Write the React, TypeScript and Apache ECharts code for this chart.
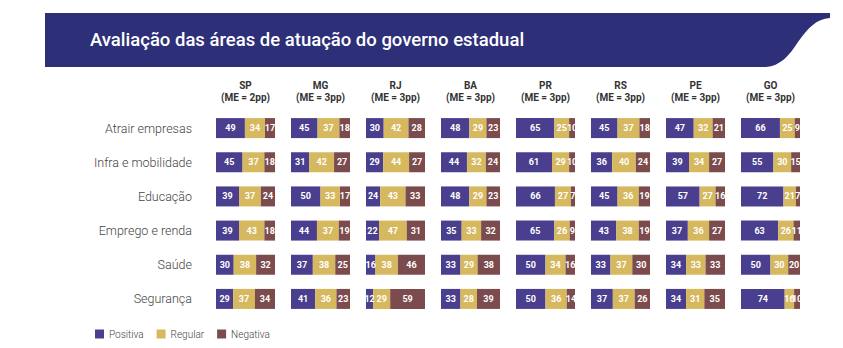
import React, { useEffect, useRef } from "react";
import * as echarts from "echarts";

const states = ["SP", "MG", "RJ", "BA", "PR", "RS", "PE", "GO"];
const margins = ["(ME = 2pp)", "(ME = 3pp)", "(ME = 3pp)", "(ME = 3pp)", "(ME = 3pp)", "(ME = 3pp)", "(ME = 3pp)", "(ME = 3pp)"];
const areas = ["Atrair empresas", "Infra e mobilidade", "Educação", "Emprego e renda", "Saúde", "Segurança"];

const positiva = [
  [49, 45, 39, 39, 30, 29],
  [45, 31, 50, 44, 37, 41],
  [30, 29, 24, 22, 16, 12],
  [48, 44, 48, 35, 33, 33],
  [65, 61, 66, 65, 50, 50],
  [45, 36, 45, 43, 33, 37],
  [47, 39, 57, 37, 34, 34],
  [66, 55, 72, 63, 50, 74],
];
const regular = [
  [34, 37, 37, 43, 38, 37],
  [37, 42, 33, 37, 38, 36],
  [42, 44, 43, 47, 38, 29],
  [29, 32, 29, 33, 29, 28],
  [25, 29, 27, 26, 34, 36],
  [37, 40, 36, 38, 37, 37],
  [32, 34, 27, 36, 33, 31],
  [25, 30, 21, 26, 30, 16],
];
const negativa = [
  [17, 18, 24, 18, 32, 34],
  [18, 27, 17, 19, 25, 23],
  [28, 27, 33, 31, 46, 59],
  [23, 24, 23, 32, 38, 39],
  [10, 10, 7, 9, 16, 14],
  [18, 24, 19, 19, 30, 26],
  [21, 27, 16, 27, 33, 35],
  [9, 15, 7, 11, 20, 10],
];

const seriesNames = ["Positiva", "Regular", "Negativa"];
const colors = ["#4A3F8E", "#D6B85F", "#7B4B4D"];

const PANEL_LEFT = 216;
const PANEL_STEP = 75;
const PANEL_W = 59;
const GRID_TOP = 111;
const GRID_H = 205;

export default function App() {
  const ref = useRef<HTMLDivElement>(null);
  useEffect(() => {
    if (!ref.current) return;
    const chart = echarts.init(ref.current, null, { renderer: "svg" });
    const grids: any[] = [];
    const xAxes: any[] = [];
    const yAxes: any[] = [];
    const series: any[] = [];
    const graphics: any[] = [];
    const valueSets = [positiva, regular, negativa];

    echarts.graphic.registerShape(
      "banner",
      echarts.graphic.extendPath(
        "M45 13 L830 13 L830 18 C816 19 808 28 798 42 C789 56 780 66 766 67 L45 67 Z",
        {}
      ) as any
    );
    graphics.push({
      type: "banner",
      x: 0,
      y: 0,
      style: { fill: "#2D2F78" },
      silent: true,
    });
    graphics.push({
      type: "text",
      x: 90,
      y: 40,
      style: {
        text: "Avaliação das áreas de atuação do governo estadual",
        fill: "#ffffff",
        font: "500 18.5px Roboto",
        verticalAlign: "middle",
      },
    });

    states.forEach((st, i) => {
      const left = PANEL_LEFT + PANEL_STEP * i;
      grids.push({ left, top: GRID_TOP, width: PANEL_W, height: GRID_H });
      xAxes.push({
        type: "value",
        gridIndex: i,
        min: 0,
        max: 100,
        show: false,
      });
      yAxes.push({
        type: "category",
        gridIndex: i,
        data: areas,
        inverse: true,
        axisLine: { show: false },
        axisTick: { show: false },
        splitLine: { show: false },
        axisLabel: {
          show: i === 0,
          margin: 24,
          color: "#444",
          fontSize: 12.5,
          fontFamily: "Roboto",
          fontWeight: 300,
        },
      });
      valueSets.forEach((vals, k) => {
        series.push({
          type: "bar",
          name: seriesNames[k],
          stack: "s" + i,
          xAxisIndex: i,
          yAxisIndex: i,
          barWidth: 20,
          data: vals[i],
          itemStyle: { color: colors[k] },
          label: {
            show: true,
            position: "inside",
            color: "#fff",
            fontSize: 9,
            fontWeight: "bold",
            fontFamily: "Roboto",
          },
        });
      });
      graphics.push({
        type: "text",
        x: left + PANEL_W / 2,
        y: 85,
        style: {
          text: st,
          fill: "#333",
          font: "bold 10px Roboto",
          align: "center",
          verticalAlign: "middle",
        },
      });
      graphics.push({
        type: "text",
        x: left + PANEL_W / 2,
        y: 97,
        style: {
          text: margins[i],
          fill: "#333",
          font: "bold 10px Roboto",
          align: "center",
          verticalAlign: "middle",
        },
      });
    });

    chart.setOption({
      animation: false,
      backgroundColor: "#ffffff",
      grid: grids,
      xAxis: xAxes,
      yAxis: yAxes,
      series,
      graphic: graphics,
      legend: {
        data: seriesNames,
        left: 90,
        top: 324,
        icon: "rect",
        itemWidth: 9,
        itemHeight: 9,
        itemGap: 13,
        textStyle: { color: "#444", fontSize: 10, fontFamily: "Roboto", fontWeight: 300 },
      },
    });
    return () => chart.dispose();
  }, []);
  return (
    <div
      ref={ref}
      style={{ position: "fixed", left: 0, top: 0, width: 843, height: 348 }}
    />
  );
}
